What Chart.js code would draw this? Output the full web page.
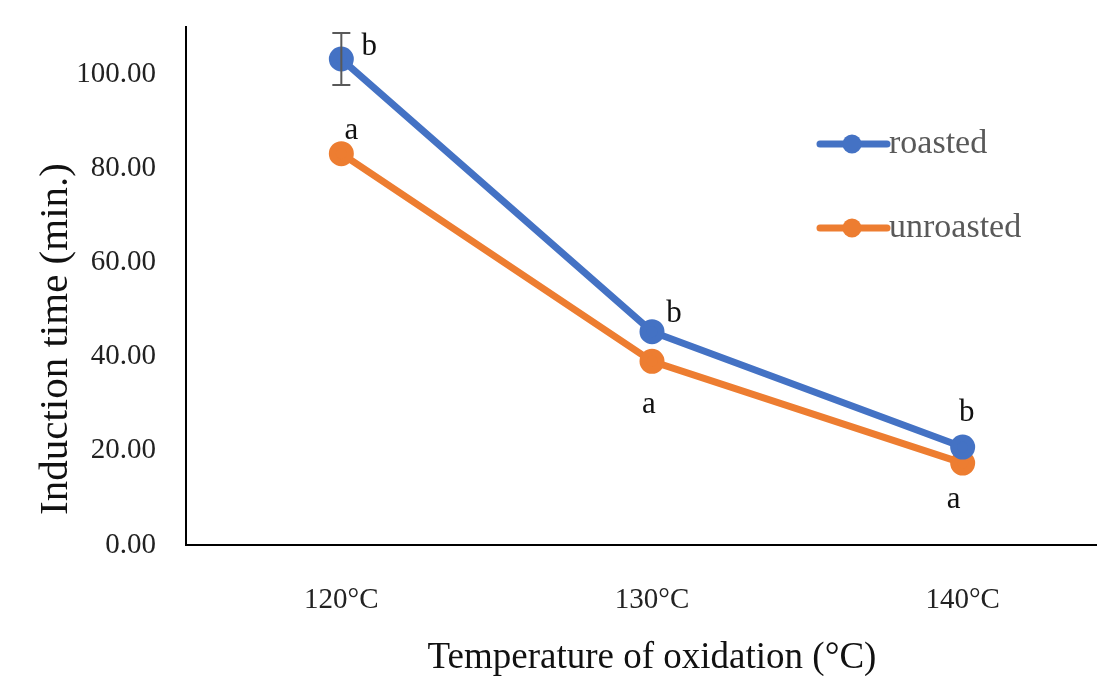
<!DOCTYPE html>
<html>
<head>
<meta charset="utf-8">
<script src="https://cdn.jsdelivr.net/npm/chart.js@4.4.1/dist/chart.umd.min.js"></script>
<style>
  html, body { margin: 0; padding: 0; background: #fff; overflow: hidden; }
  #wrap { width: 1134px; height: 676px; position: relative; }
</style>
</head>
<body>
<div id="wrap"><canvas id="oxChart"></canvas></div>
<script>
const categories = ['120°C', '130°C', '140°C'];
const roasted = [103.2, 45.3, 20.8];
const unroasted = [83.1, 39.0, 17.4];
const roastedErr = [5.5, 0, 0];
const roastedLetters = ['b', 'b', 'b'];
const unroastedLetters = ['a', 'a', 'a'];
const yTicks = [0, 20, 40, 60, 80, 100];
const yTitle = 'Induction time (min.)';

const FONT = '"Liberation Serif", "DejaVu Serif", serif';

// error bars + significance letters, drawn next to each point
const markPlugin = {
    id: 'marks',
    afterDatasetsDraw(chart) {
        const ctx = chart.ctx;
        const y = chart.scales.y;
        const m0 = chart.getDatasetMeta(0);
        ctx.save();
        ctx.strokeStyle = '#595959';
        ctx.lineWidth = 2;
        m0.data.forEach((pt, i) => {
            const e = roastedErr[i];
            if (!e) return;
            const top = y.getPixelForValue(roasted[i] + e);
            const bot = y.getPixelForValue(roasted[i] - e);
            ctx.beginPath();
            ctx.moveTo(pt.x, top); ctx.lineTo(pt.x, bot);
            ctx.moveTo(pt.x - 9, top); ctx.lineTo(pt.x + 9, top);
            ctx.moveTo(pt.x - 9, bot); ctx.lineTo(pt.x + 9, bot);
            ctx.stroke();
        });
        ctx.fillStyle = '#111';
        ctx.font = '31px ' + FONT;
        ctx.textAlign = 'center';
        ctx.textBaseline = 'middle';
        const offB = [[28, -12], [22, -18], [4, -34]];
        const offA = [[10, -23], [-3, 44], [-9, 37]];
        m0.data.forEach((pt, i) => {
            ctx.fillText(roastedLetters[i], pt.x + offB[i][0], pt.y + offB[i][1]);
        });
        chart.getDatasetMeta(1).data.forEach((pt, i) => {
            ctx.fillText(unroastedLetters[i], pt.x + offA[i][0], pt.y + offA[i][1]);
        });
        ctx.restore();
    }
};

// legend inside the plot + y title placed like the original
const legendPlugin = {
    id: 'insideLegend',
    afterDraw(chart) {
        const ctx = chart.ctx;
        ctx.save();
        chart.data.datasets.forEach((ds, i) => {
            const ly = 144 + i * 84;
            ctx.strokeStyle = ds.borderColor;
            ctx.lineWidth = 7;
            ctx.lineCap = 'round';
            ctx.beginPath();
            ctx.moveTo(820, ly); ctx.lineTo(887, ly);
            ctx.stroke();
            ctx.fillStyle = ds.borderColor;
            ctx.beginPath();
            ctx.arc(852, ly, 9.5, 0, Math.PI * 2);
            ctx.fill();
            ctx.fillStyle = '#595959';
            ctx.font = '34px ' + FONT;
            ctx.textAlign = 'left';
            ctx.textBaseline = 'middle';
            ctx.fillText(ds.label, 889, ly);
        });
        ctx.translate(56, 339);
        ctx.rotate(-Math.PI / 2);
        ctx.fillStyle = '#111';
        ctx.font = '41px ' + FONT;
        ctx.textAlign = 'center';
        ctx.textBaseline = 'middle';
        ctx.fillText(yTitle, 0, 0);
        ctx.restore();
    }
};

document.addEventListener('DOMContentLoaded', function () {
    const ctx = document.getElementById('oxChart').getContext('2d');
    new Chart(ctx, {
        type: 'line',
        data: {
            labels: categories,
            datasets: [
                {
                    label: 'roasted',
                    data: roasted,
                    borderColor: '#4472C4',
                    backgroundColor: '#4472C4',
                    borderWidth: 7,
                    pointRadius: 9,
                    pointHoverRadius: 9
                },
                {
                    label: 'unroasted',
                    data: unroasted,
                    borderColor: '#ED7D31',
                    backgroundColor: '#ED7D31',
                    borderWidth: 7,
                    pointRadius: 9,
                    pointHoverRadius: 9
                }
            ]
        },
        options: {
            responsive: true,
            maintainAspectRatio: false,
            animation: false,
            layout: { padding: { left: 76, top: 27, right: 6, bottom: 0 } },
            plugins: {
                legend: { display: false },
                tooltip: { enabled: false }
            },
            scales: {
                x: {
                    offset: true,
                    grid: { display: false },
                    border: { display: true, color: '#000', width: 2 },
                    afterFit: function (axis) { axis.height = 131; },
                    ticks: { color: '#222', font: { family: FONT, size: 29 }, padding: 30 },
                    title: {
                        display: true,
                        text: 'Temperature of oxidation (°C)',
                        color: '#111',
                        font: { family: FONT, size: 37 },
                        padding: { top: 0, bottom: -4 }
                    }
                },
                y: {
                    min: 0,
                    max: 110,
                    grid: { display: false },
                    border: { display: true, color: '#000', width: 2 },
                    afterFit: function (axis) {
                        axis.width = 110;
                        axis.paddingTop = 0;
                    },
                    afterBuildTicks: function (axis) {
                        axis.ticks = yTicks.map(v => ({ value: v }));
                    },
                    ticks: {
                        color: '#222',
                        font: { family: FONT, size: 29 },
                        padding: 22,
                        callback: v => Number(v).toFixed(2)
                    }
                }
            }
        },
        plugins: [markPlugin, legendPlugin]
    });
});
</script>
</body>
</html>
